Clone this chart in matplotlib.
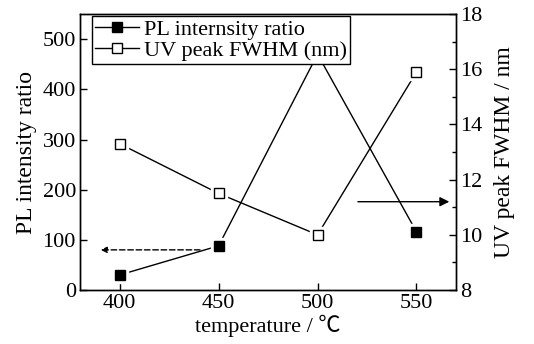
import matplotlib
matplotlib.use('Agg')
import matplotlib.pyplot as plt
from matplotlib.ticker import MultipleLocator

plt.rcParams['font.family'] = ['Liberation Serif', 'Noto Sans CJK SC', 'DejaVu Serif']
plt.rcParams['font.size'] = 16

temperature = [400, 450, 500, 550]
pl_ratio = [30, 88, 470, 116]
uv_fwhm = [13.3, 11.5, 10.0, 15.9]

fig = plt.figure(figsize=(5.34, 3.44), dpi=100)
ax = fig.add_axes([0.150, 0.157, 0.704, 0.802])
ax2 = ax.twinx()

l1, = ax.plot(temperature, pl_ratio, color='black', lw=1.0, zorder=2)
ax.plot(temperature, pl_ratio, ls='none', marker='s', ms=11,
        mfc='white', mec='white', zorder=3)
ax.plot(temperature, pl_ratio, ls='none', marker='s', ms=7,
        mfc='black', mec='black', zorder=4)
h1, = ax.plot([], [], color='black', lw=1.0, marker='s', ms=7, mfc='black')

l2, = ax2.plot(temperature, uv_fwhm, color='black', lw=1.0, zorder=2)
ax2.plot(temperature, uv_fwhm, ls='none', marker='s', ms=11,
         mfc='white', mec='white', zorder=3)
ax2.plot(temperature, uv_fwhm, ls='none', marker='s', ms=7.5,
         mfc='white', mec='black', mew=1.0, zorder=4)
h2, = ax2.plot([], [], color='black', lw=1.0, marker='s', ms=7, mfc='white')

ax.set_xlim(380, 570)
ax.set_ylim(0, 550)
ax2.set_ylim(8, 18)
ax.set_xticks(temperature)
ax.yaxis.set_major_locator(MultipleLocator(100))
ax2.yaxis.set_major_locator(MultipleLocator(2))
ax2.yaxis.set_minor_locator(MultipleLocator(1))

for a in (ax, ax2):
    a.tick_params(direction='in', which='both', labelsize=16, width=1.0, pad=3)
    a.tick_params(which='major', length=5)
    a.tick_params(which='minor', length=3)
    for s in a.spines.values():
        s.set_linewidth(1.0)

ax.set_xlabel('temperature / ℃', fontsize=16, labelpad=1)
ax.set_ylabel('PL intensity ratio', fontsize=17, labelpad=4)
ax2.set_ylabel('UV peak FWHM / nm', fontsize=17, labelpad=8)

# direction arrows
ax.annotate('', xy=(389, 80), xytext=(442, 80),
            arrowprops=dict(arrowstyle='-|>', color='black', lw=1.0,
                            linestyle=(0, (4, 2)), mutation_scale=9))
ax2.annotate('', xy=(568, 11.2), xytext=(519, 11.2),
             arrowprops=dict(arrowstyle='-|>', color='black', lw=1.0,
                             mutation_scale=14))

leg = ax2.legend([h1, h2], ['PL internsity ratio', 'UV peak FWHM (nm)'],
                 loc='upper left', bbox_to_anchor=(0.025, 1.0), fontsize=16,
                 frameon=True, fancybox=False, framealpha=1.0,
                 handlelength=2.0, handletextpad=0.2, borderpad=0.15,
                 labelspacing=0.0, borderaxespad=0.1)
leg.get_frame().set_edgecolor('black')
leg.get_frame().set_linewidth(1.0)
leg.set_zorder(10)

fig.savefig('out.png', dpi=100)
